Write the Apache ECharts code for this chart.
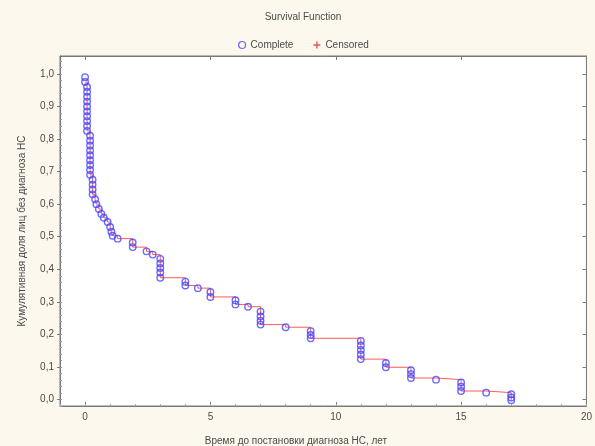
<!DOCTYPE html>
<html>
<head>
<meta charset="utf-8">
<script src="https://cdn.jsdelivr.net/npm/echarts@6/dist/echarts.min.js"></script>
<style>
html,body{margin:0;padding:0;background:#fcf8ee;}
#c{width:595px;height:446px;}
</style>
</head>
<body>
<div id="c"></div>
<script>
const xTicks = [0, 5, 10, 15, 20];
const yTicks = [0, 0.1, 0.2, 0.3, 0.4, 0.5, 0.6, 0.7, 0.8, 0.9, 1.0];

// Event times (years) and survival value after each event (markers "Complete")
const eventTime = [
  0, 0,
  0.08, 0.08, 0.08, 0.08, 0.08, 0.08, 0.08, 0.08, 0.08, 0.08,
  0.2, 0.2, 0.2, 0.2, 0.2, 0.2, 0.2, 0.2, 0.2,
  0.3, 0.3, 0.3, 0.3,
  0.4, 0.45,
  0.55, 0.65, 0.75, 0.9,
  1.0, 1.05, 1.1,
  1.3,
  1.9, 1.9,
  2.45,
  2.7,
  3.0, 3.0, 3.0, 3.0, 3.0,
  4.0, 4.0,
  4.5,
  5.0, 5.0,
  6.0, 6.0,
  6.5,
  7.0, 7.0, 7.0, 7.0,
  8.0,
  9.0, 9.0, 9.0,
  11.0, 11.0, 11.0, 11.0, 11.0,
  12.0, 12.0,
  13.0, 13.0, 13.0,
  14.0,
  15.0, 15.0, 15.0,
  16.0,
  17.0, 17.0, 17.0
];
const survival = [
  0.99, 0.975,
  0.96, 0.945, 0.93, 0.915, 0.90, 0.885, 0.87, 0.855, 0.84, 0.825,
  0.81, 0.795, 0.78, 0.765, 0.75, 0.735, 0.72, 0.705, 0.69,
  0.675, 0.66, 0.645, 0.63,
  0.615, 0.60,
  0.585, 0.57, 0.558, 0.545,
  0.53, 0.515, 0.503,
  0.494,
  0.482, 0.468,
  0.455,
  0.445,
  0.432, 0.418, 0.404, 0.39, 0.374,
  0.362, 0.35,
  0.342,
  0.33, 0.315,
  0.305, 0.292,
  0.285,
  0.27, 0.255, 0.242, 0.23,
  0.222,
  0.21, 0.198, 0.188,
  0.18, 0.166, 0.152, 0.138, 0.124,
  0.112, 0.099,
  0.09, 0.078, 0.066,
  0.061,
  0.052, 0.039, 0.026,
  0.021,
  0.016, 0.006, -0.002
];

// step line: lowest survival at each distinct event time
const stepLine = [];
eventTime.forEach((t, i) => {
  const last = stepLine[stepLine.length - 1];
  if (last && last[0] === t) { last[1] = Math.min(last[1], survival[i]); }
  else stepLine.push([t, survival[i]]);
});
const points = eventTime.map((t, i) => [t, survival[i]]);

const yMinor = [];
for (let k = -1; k <= 52; k++) yMinor.push(+(k * 0.02).toFixed(2));
const xMinor = [];
for (let k = -1; k <= 20; k++) xMinor.push(k);

const axisCol = '#7a7a7a';
const txt = '#4a4a4a';
const blue = '#4646ff';
const font = 'Liberation Sans, Arial, sans-serif';
const plusPath = 'path://M4,0H6V4H10V6H6V10H4V6H0V4H4Z';

const chart = echarts.init(document.getElementById('c'), null, {renderer: 'canvas'});
chart.setOption({
  backgroundColor: '#fcf8ee',
  animation: false,
  title: [
    {text: 'Survival Function', left: 298, top: 7, textAlign: 'center',
     textStyle: {fontSize: 10, fontWeight: 'normal', color: txt, fontFamily: font}},
    {text: 'Время до постановки диагноза НС, лет', left: 291, top: 431, textAlign: 'center',
     textStyle: {fontSize: 10, fontWeight: 'normal', color: txt, fontFamily: font}}
  ],
  legend: {
    top: 35, left: 233,
    itemWidth: 7, itemHeight: 7, itemGap: 20,
    textStyle: {fontSize: 10, color: txt, fontFamily: font},
    data: [
      {name: 'Complete', icon: 'circle', itemStyle: {color: 'rgba(0,0,0,0)', borderColor: blue, borderWidth: 1.2}},
      {name: 'Censored', icon: plusPath, itemStyle: {color: '#e03030'}}
    ]
  },
  grid: {left: 60, right: 7, top: 56, bottom: 40, show: true, backgroundColor: '#ffffff', borderColor: axisCol, borderWidth: 1},
  xAxis: [
    {type: 'value', min: -1, max: 20, position: 'bottom',
     axisLine: {show: true, onZero: false, lineStyle: {color: axisCol}},
     axisTick: {show: true, inside: true, length: 4, customValues: xTicks, lineStyle: {color: axisCol}},
     axisLabel: {customValues: xTicks, fontSize: 10, color: txt, fontFamily: font, margin: 6},
     splitLine: {show: false}},
    {type: 'value', min: -1, max: 20, position: 'top',
     axisLine: {show: true, onZero: false, lineStyle: {color: axisCol}},
     axisTick: {show: true, inside: true, length: 4, customValues: xTicks, lineStyle: {color: axisCol}},
     axisLabel: {show: false}, splitLine: {show: false}},
    {type: 'value', min: -1, max: 20, position: 'bottom',
     axisLine: {show: false, onZero: false},
     axisTick: {show: true, inside: true, length: 2, customValues: xMinor, lineStyle: {color: '#aaa'}},
     axisLabel: {show: false}, splitLine: {show: false}}
  ],
  yAxis: [
    {type: 'value', min: -0.02, max: 1.055, position: 'left',
     axisLine: {show: true, onZero: false, lineStyle: {color: axisCol}},
     axisTick: {show: true, inside: false, length: 3, customValues: yTicks, lineStyle: {color: axisCol}},
     axisLabel: {customValues: yTicks, fontSize: 10, color: txt, fontFamily: font, margin: 6,
       formatter: v => v.toFixed(1).replace('.', ',')},
     name: 'Кумулятивная доля лиц без диагноза НС', nameLocation: 'middle', nameGap: 33,
     nameTextStyle: {fontSize: 10, color: txt, fontFamily: font},
     splitLine: {show: false}},
    {type: 'value', min: -0.02, max: 1.055, position: 'right',
     axisLine: {show: true, onZero: false, lineStyle: {color: axisCol}},
     axisTick: {show: true, inside: true, length: 4, customValues: yTicks, lineStyle: {color: axisCol}},
     axisLabel: {show: false}, splitLine: {show: false}},
    {type: 'value', min: -0.02, max: 1.055, position: 'left',
     axisLine: {show: false, onZero: false},
     axisTick: {show: true, inside: true, length: 2, customValues: yMinor, lineStyle: {color: '#999'}},
     axisLabel: {show: false}, splitLine: {show: false}}
  ],
  series: [
    {name: 'KM', type: 'line', step: 'end', data: stepLine, showSymbol: false,
     lineStyle: {color: '#ff5a5a', width: 1}, z: 2, xAxisIndex: 0, yAxisIndex: 0},
    {name: 'Complete', type: 'scatter', data: points, symbol: 'circle', symbolSize: 6.5,
     itemStyle: {color: 'rgba(255,255,255,0)', borderColor: blue, borderWidth: 1.4}, z: 3,
     xAxisIndex: 0, yAxisIndex: 0},
    {name: 'Censored', type: 'scatter', data: [], symbol: plusPath,
     symbolSize: 7, itemStyle: {color: '#e03030'}, xAxisIndex: 0, yAxisIndex: 0}
  ]
});
</script>
</body>
</html>
